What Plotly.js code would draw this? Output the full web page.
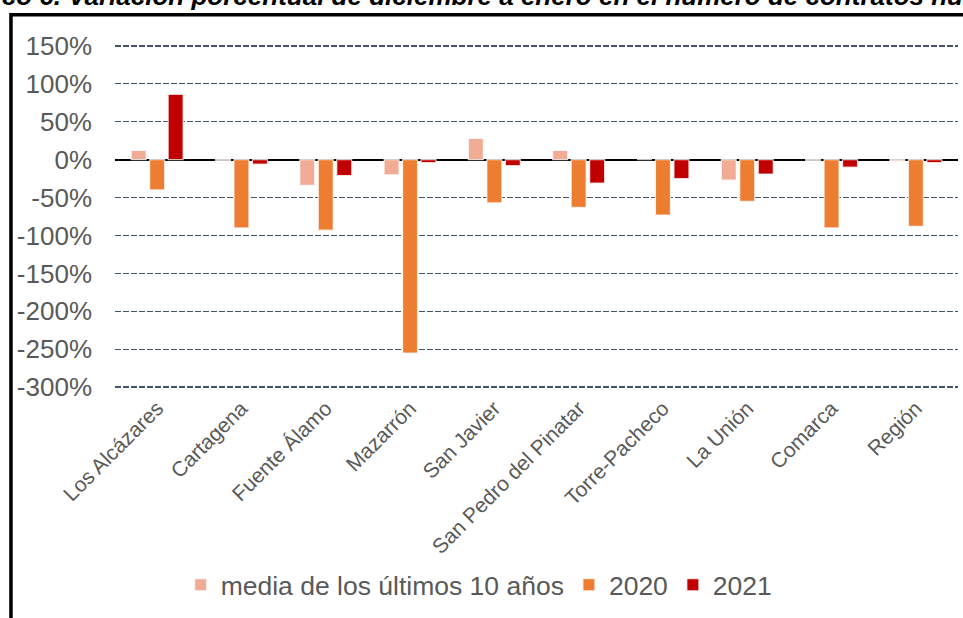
<!DOCTYPE html>
<html>
<head>
<meta charset="utf-8">
<script src="https://cdn.plot.ly/plotly-3.0.1.min.js"></script>
<style>
html,body{margin:0;padding:0;background:#fff;}
#chart{width:963px;height:618px;}
</style>
</head>
<body>
<div id="chart"></div>
<script>
var categories = ['Los Alcázares','Cartagena','Fuente Álamo','Mazarrón','San Javier','San Pedro del Pinatar','Torre-Pacheco','La Unión','Comarca','Región'];
var media10 = [12, -1, -34, -20, 28, 12, 0, -27, -1, -2];
var y2020 = [-40, -90, -93, -255, -57, -63, -73, -55, -90, -88];
var y2021 = [86, -6, -21, -4, -8, -31, -25, -19, -10, -4];
var seriesNames = ['media de los últimos 10 años', '2020', '2021'];
var yTickVals = [150, 100, 50, 0, -50, -100, -150, -200, -250, -300];
var yTickText = ['150%', '100%', '50%', '0%', '-50%', '-100%', '-150%', '-200%', '-250%', '-300%'];
var titleText = 'Gráfico 6. Variación porcentual de diciembre a enero en el número de contratos nuevos';

var FONT = 'Liberation Sans, Arial, sans-serif';
var colors = ['#F2AC96', '#ED7D31', '#C00000'];
var vals = [media10, y2020, y2021];

var traces = vals.map(function(v, i){
  return {
    type: 'bar',
    x: categories,
    y: v,
    name: seriesNames[i],
    marker: {color: colors[i], line: {color: 'rgba(255,255,255,0.75)', width: 1.2}},
    hoverinfo: 'x+y'
  };
});

var layout = {
  width: 963, height: 618,
  margin: {l: 115, r: 5, t: 41.7, b: 227.2, autoexpand: false},
  paper_bgcolor: '#fff', plot_bgcolor: '#fff',
  barmode: 'group',
  bargap: 0.342,
  bargroupgap: 0.19,
  font: {family: FONT, color: '#595959'},
  xaxis: {
    type: 'category',
    tickangle: -45,
    ticks: '',
    showgrid: false,
    showline: false,
    zeroline: false,
    tickfont: {family: FONT, size: 21, color: '#595959'},
    ticklabelstandoff: 0
  },
  yaxis: {
    range: [-305, 155],
    tickvals: yTickVals,
    ticktext: yTickText,
    ticks: '',
    showline: false,
    showgrid: true,
    gridcolor: '#44546A',
    gridwidth: 1.5,
    griddash: '6px,2px',
    zeroline: true,
    zerolinecolor: '#000',
    zerolinewidth: 2,
    tickfont: {family: FONT, size: 26, color: '#595959'},
    ticklabelstandoff: 22
  },
  showlegend: true,
  legend: {
    orientation: 'h',
    x: 0.432, xanchor: 'center',
    y: -0.556, yanchor: 'middle',
    font: {family: FONT, size: 26.5, color: '#595959'},
    itemwidth: 30,
    bgcolor: 'rgba(0,0,0,0)'
  },
  annotations: [{
    text: '<b><i>' + titleText + '</i></b>',
    xref: 'paper', yref: 'paper',
    x: -0.2088, xanchor: 'left',
    y: 1.0837, yanchor: 'bottom',
    showarrow: false,
    font: {family: FONT, size: 26, color: '#000'}
  }],
  shapes: [{
    type: 'rect', xref: 'paper', yref: 'paper',
    x0: -0.1234, x1: 1.3, y0: -1.2, y1: 1.0779,
    line: {color: '#000', width: 3.5},
    fillcolor: 'rgba(0,0,0,0)',
    layer: 'above'
  }]
};

Plotly.newPlot('chart', traces, layout, {displayModeBar: false, staticPlot: true});
</script>
</body>
</html>
